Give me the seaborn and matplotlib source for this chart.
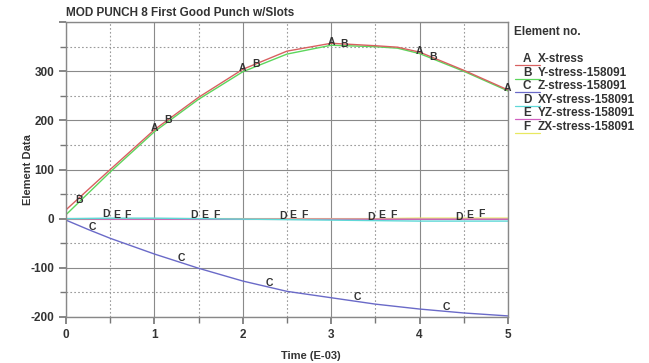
import numpy as np
import pandas as pd
import matplotlib
matplotlib.use("Agg")
import matplotlib.pyplot as plt
import seaborn as sns
from matplotlib.lines import Line2D
from matplotlib.ticker import MultipleLocator

sns.set_theme(style="white")
plt.rcParams['font.family'] = ['Liberation Sans', 'DejaVu Sans']

# ---- data ----
t_ab = [0, 0.5, 1, 1.5, 2, 2.5, 3, 3.5, 3.75, 4, 4.5, 5]
x_stress = [18, 100, 181, 247, 304, 341, 357, 352, 349, 339, 302, 262]
y_stress = [8, 95, 177, 243, 299, 335, 353, 350, 347, 336, 300, 260]
t_c = [0, 0.25, 0.5, 1, 1.5, 2, 2.5, 3, 3.5, 4, 4.5, 5]
z_stress = [-3, -22, -40, -72, -101, -127, -148, -161, -174, -184, -192, -198]
t_def = [0, 0.5, 1, 1.5, 2, 2.5, 3, 3.5, 4, 4.5, 5]
xy_stress = [0, 1, 1, 0, -1, -2, -3, -4, -5, -5, -5]
yz_stress = [0, -1, -1, -1, -1, -1, -1, -1, -1, -1, -1]
zx_stress = [0, 0, 0, 0, 0, 0, 0, 0, 1, 1, 1]

letters = ["A", "B", "C", "D", "E", "F"]
labels = ["X-stress", "Y-stress-158091", "Z-stress-158091",
          "XY-stress-158091", "YZ-stress-158091", "ZX-stress-158091"]
colors = ["#d86060", "#5cd65c", "#6a6ac8", "#5fd8d8", "#d060c0", "#e8e860"]
series = [(t_ab, x_stress), (t_ab, y_stress), (t_c, z_stress),
          (t_def, xy_stress), (t_def, yz_stress), (t_def, zx_stress)]
letter_offsets = [0.0, 0.15, 0.3, 0.45, 0.57, 0.7]

title = "MOD PUNCH 8 First Good Punch w/Slots"
xlabel = "Time (E-03)"
ylabel = "Element Data"
legend_title = "Element no."

frames = []
for lab, (tt, vv) in zip(labels, series):
    frames.append(pd.DataFrame({"t": tt, "v": vv, "s": lab}))
df = pd.concat(frames, ignore_index=True)

fig = plt.figure(figsize=(6.49, 3.63), dpi=100)
ax = fig.add_axes([0.1017, 0.127, 0.681, 0.812])

# grid
ax.set_xlim(0, 5)
ax.set_ylim(-200, 400)
ax.xaxis.set_major_locator(MultipleLocator(1))
ax.xaxis.set_minor_locator(MultipleLocator(0.5))
ax.yaxis.set_major_locator(MultipleLocator(100))
ax.yaxis.set_minor_locator(MultipleLocator(50))
ax.grid(which="major", color="#8a8a8a", lw=0.8, ls="-")
ax.grid(which="minor", color="#9a9a9a", lw=0.8, ls=(0, (1.5, 2)))
ax.set_axisbelow(True)

order = [1, 0, 2, 5, 4, 3]
for i in order:
    sub = df[df["s"] == labels[i]]
    sns.lineplot(data=sub, x="t", y="v", color=colors[i], lw=1.0,
                 ax=ax, legend=False, estimator=None, sort=False)

# letter markers along curves
for i, (tt, vv) in enumerate(series):
    for k in range(5):
        xp = letter_offsets[i] + k * 1.0
        if i == 0:
            xp = 1.0 + k * 1.0
        if xp > 5:
            continue
        yp = np.interp(xp, tt, vv)
        dy = 0
        if i == 2:
            dy = 9
        elif i >= 3:
            dy = 8
        elif i == 0:
            dy = 3
        elif i == 1:
            dy = 4
        ax.text(xp, yp + dy, letters[i], fontsize=7.5, color="#333333",
                ha="center", va="center", fontweight="bold")

ax.set_yticks([-200, -100, 0, 100, 200, 300, 400])
ax.set_yticklabels(["-200", "-100", "0", "100", "200", "300", ""])
ax.tick_params(axis="both", which="both", direction="out", left=True,
               bottom=True, color="#777777", labelsize=8.5, labelcolor="#333333")
ax.tick_params(which="major", length=5)
ax.tick_params(which="minor", length=4)
for lab_ in ax.get_xticklabels() + ax.get_yticklabels():
    lab_.set_fontweight("bold")
for sp in ax.spines.values():
    sp.set_color("#888888")
    sp.set_linewidth(1.0)

ax.set_xlabel(xlabel, fontsize=8, fontweight="bold", color="#333333", labelpad=0)
ax.xaxis.set_label_coords(0.555, -0.115)
ax.set_ylabel(ylabel, fontsize=8, fontweight="bold", color="#333333")
ax.yaxis.set_label_coords(-0.075, 0.5)

fig.text(66 / 649, 1 - 13 / 363, title, fontsize=8.5, fontweight="bold",
         color="#333333", ha="left", va="center")

# legend
fig.text(514 / 649, 1 - 32 / 363, legend_title, fontsize=8.5, fontweight="bold",
         color="#333333", ha="left", va="center")
for i in range(6):
    yy = 1 - (59 + i * 13.6) / 363
    fig.text(527 / 649, yy, letters[i], fontsize=8.5, fontweight="bold",
             color="#333333", ha="center", va="center")
    fig.text(538 / 649, yy, labels[i], fontsize=8.5, fontweight="bold",
             color="#333333", ha="left", va="center")
    fig.add_artist(Line2D([515 / 649, 540 / 649], [yy - 6 / 363, yy - 6 / 363],
                          color=colors[i], lw=0.9, transform=fig.transFigure))

fig.savefig("out.png", dpi=100)
